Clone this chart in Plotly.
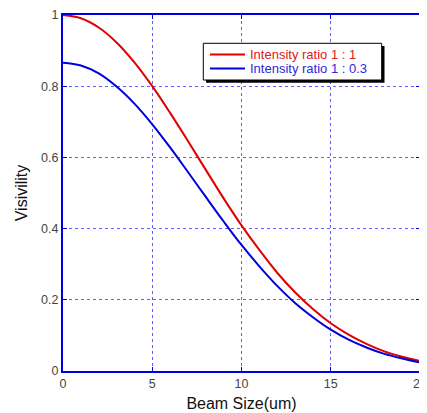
import plotly.graph_objects as go

# beam size (um)
beam_size = [0, 1, 2, 3, 4, 5, 6, 7, 8, 9, 10,
             11, 12, 13, 14, 15, 16, 17, 18, 19, 20]

# visibility
vis_ratio_1_1 = [1.000, 0.991, 0.965, 0.923, 0.867, 0.800, 0.725, 0.646, 0.565, 0.485, 0.409,
                 0.340, 0.276, 0.221, 0.174, 0.134, 0.102, 0.076, 0.055, 0.040, 0.028]
vis_ratio_1_03 = [0.866, 0.858, 0.836, 0.799, 0.751, 0.693, 0.628, 0.559, 0.489, 0.420, 0.354,
                  0.294, 0.239, 0.191, 0.151, 0.116, 0.088, 0.066, 0.048, 0.035, 0.024]

legend_labels = ["Intensity ratio 1 : 1", "Intensity ratio 1 : 0.3"]

RED = "#e00000"
BLUE = "#0000dd"
AXIS = "#0000e0"
GRID = "#6060ff"
FONT = "Liberation Sans, Arial, sans-serif"

# the page body has an 8px margin, so the figure sits 8px in from the window corner
OFF = 8
WIN_W, WIN_H = 427, 413
W, H = WIN_W - OFF, WIN_H - OFF
# plot area in window pixels
PL, PR, PT, PB = 63, 420, 15, 371
L, R, T, B = PL - OFF, WIN_W - PR, PT - OFF, WIN_H - PB
PW, PH = PR - PL, PB - PT


def px(x):
    """window pixel x -> paper x"""
    return (x - PL) / PW


def py(y):
    """window pixel y -> paper y"""
    return (PB - y) / PH


fig = go.Figure()
fig.add_trace(go.Scatter(x=beam_size, y=vis_ratio_1_1, mode="lines",
                         line=dict(color=RED, width=2, shape="spline"),
                         name=legend_labels[0], hoverinfo="skip"))
fig.add_trace(go.Scatter(x=beam_size, y=vis_ratio_1_03, mode="lines",
                         line=dict(color=BLUE, width=2, shape="spline"),
                         name=legend_labels[1], hoverinfo="skip"))

axis_common = dict(
    showline=True, linecolor=AXIS, linewidth=2, mirror="ticks",
    ticks="inside", ticklen=4, tickcolor=AXIS, tickwidth=1,
    showgrid=True, gridcolor=GRID, gridwidth=1, griddash="dot",
    zeroline=False, automargin=False, ticklabeloverflow="allow",
    tickfont=dict(family=FONT, size=12.5, color="#444444"),
)

fig.update_layout(
    width=W, height=H,
    margin=dict(l=L, r=R, t=T, b=B),
    paper_bgcolor="white", plot_bgcolor="white",
    showlegend=False,
    xaxis=dict(range=[0, 20], tickvals=[0, 5, 10, 15, 20],
               title=dict(text="Beam Size(um)", standoff=8,
                          font=dict(family=FONT, size=16, color="#111111")),
               **axis_common),
    yaxis=dict(range=[0, 1], tickvals=[0, 0.2, 0.4, 0.6, 0.8, 1],
               ticktext=["0", "0.2", "0.4", "0.6", "0.8", "1"],
               title=dict(text="Visivility", standoff=10,
                          font=dict(family=FONT, size=16, color="#111111")),
               **axis_common),
)

# hand-made legend box with drop shadow
fig.add_shape(type="rect", xref="paper", yref="paper",
              x0=px(206), x1=px(384.5), y0=py(82.8), y1=py(46),
              fillcolor="black", line=dict(width=0), layer="above")
fig.add_shape(type="rect", xref="paper", yref="paper",
              x0=px(203.3), x1=px(381.7), y0=py(80), y1=py(43.3),
              fillcolor="white", line=dict(color="black", width=1), layer="above")
for ypix, col, label, tcol in [(54.6, RED, legend_labels[0], "#dd2020"),
                               (68.6, BLUE, legend_labels[1], "#2a2ad8")]:
    fig.add_shape(type="line", xref="paper", yref="paper",
                  x0=px(210), x1=px(245), y0=py(ypix), y1=py(ypix),
                  line=dict(color=col, width=2), layer="above")
    fig.add_annotation(xref="paper", yref="paper", x=px(247.5), y=py(ypix),
                       xanchor="left", yanchor="middle", showarrow=False,
                       text=label, font=dict(family=FONT, size=13, color=tcol))

fig.write_html("out.html")
